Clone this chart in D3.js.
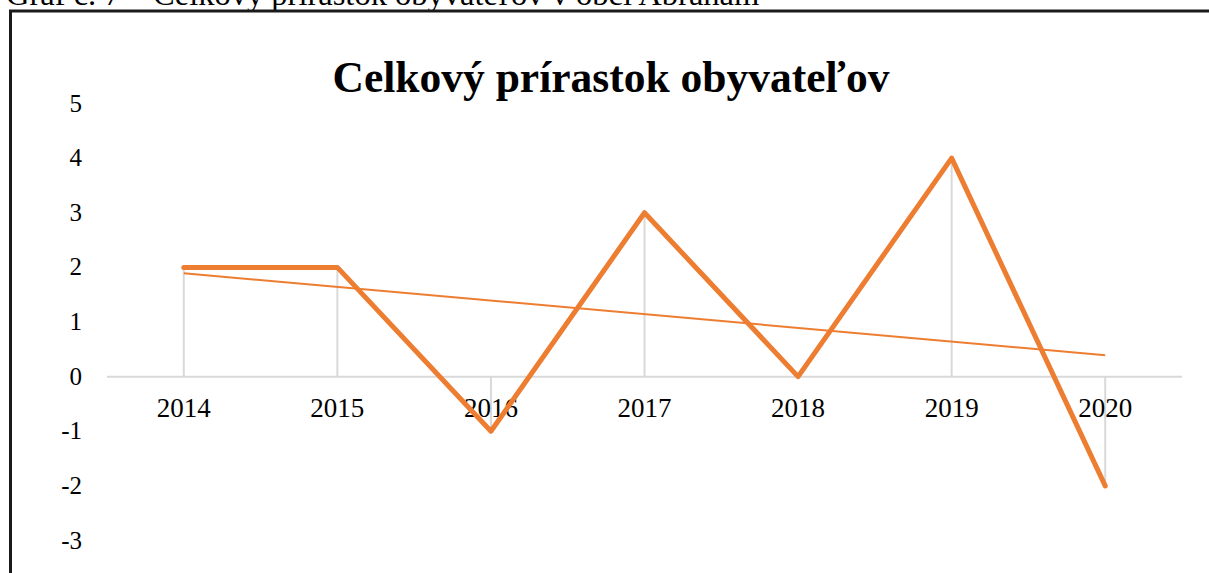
<!DOCTYPE html>
<html><head><meta charset="utf-8">
<script src="https://cdn.jsdelivr.net/npm/d3@7"></script>
<style>body{margin:0;background:#fff;overflow:hidden}svg{display:block}</style>
</head><body>
<svg id="c" width="1209" height="573"></svg>
<script>
const categories = ["2014","2015","2016","2017","2018","2019","2020"];
const values = [2, 2, -1, 3, 0, 4, -2];
const yTicks = [5,4,3,2,1,0,-1,-2,-3];
const title = "Celkový prírastok obyvateľov";
const caption = "Graf č. 7 – Celkový prírastok obyvateľov v obci Abrahám";

const svg = d3.select("#c");
const orange = "#ED7D31", grid = "#d9d9d9";
const serif = "'Liberation Serif','Times New Roman',serif";

// caption (cut off at top, as in the reference)
svg.append("text").attr("x", 6).attr("y", 5).attr("font-family", serif)
  .attr("font-size", 32.5).attr("fill", "#000").text(caption);

// frame
svg.append("path").attr("d", "M10.5,600 V11 H1215").attr("fill", "none")
  .attr("stroke", "#1a1a1a").attr("stroke-width", 3);

// title
svg.append("text").attr("x", 611).attr("y", 92).attr("text-anchor", "middle")
  .attr("font-family", serif).attr("font-weight", "bold").attr("font-size", 43.5)
  .attr("fill", "#000").text(title);

const x = d3.scaleBand().domain(categories).range([107, 1182]);
const y = d3.scaleLinear().domain([-3, 5]).range([540.5, 103.5]);
const cx = d => x(d) + x.bandwidth() / 2;

// y labels
svg.append("g").selectAll("text").data(yTicks).join("text")
  .attr("x", 82).attr("y", d => y(d) + 8).attr("text-anchor", "end")
  .attr("font-family", serif).attr("font-size", 25).attr("fill", "#000")
  .text(d => d);

// drop lines
svg.append("g").selectAll("line").data(categories).join("line")
  .attr("x1", d => cx(d)).attr("x2", d => cx(d))
  .attr("y1", y(0)).attr("y2", (d, i) => y(values[i]))
  .attr("stroke", grid).attr("stroke-width", 2);

// category axis
svg.append("line").attr("x1", 107).attr("x2", 1182).attr("y1", y(0)).attr("y2", y(0))
  .attr("stroke", grid).attr("stroke-width", 2);

// x labels
svg.append("g").selectAll("text").data(categories).join("text")
  .attr("x", d => cx(d)).attr("y", 417).attr("text-anchor", "middle")
  .attr("font-family", serif).attr("font-size", 27).attr("fill", "#000")
  .text(d => d);

// linear trend from data
const n = values.length, xm = (n - 1) / 2, ym = d3.mean(values);
const slope = d3.sum(values, (v, i) => (i - xm) * (v - ym)) / d3.sum(values, (v, i) => (i - xm) ** 2);
const trend = values.map((v, i) => ym + slope * (i - xm));

svg.append("line")
  .attr("x1", cx(categories[0])).attr("y1", y(trend[0]))
  .attr("x2", cx(categories[n - 1])).attr("y2", y(trend[n - 1]))
  .attr("stroke", orange).attr("stroke-width", 2);

// main line
svg.append("path").datum(values)
  .attr("d", d3.line().x((d, i) => cx(categories[i])).y(d => y(d)))
  .attr("fill", "none").attr("stroke", orange).attr("stroke-width", 5)
  .attr("stroke-linejoin", "round").attr("stroke-linecap", "round");
</script>
</body></html>
